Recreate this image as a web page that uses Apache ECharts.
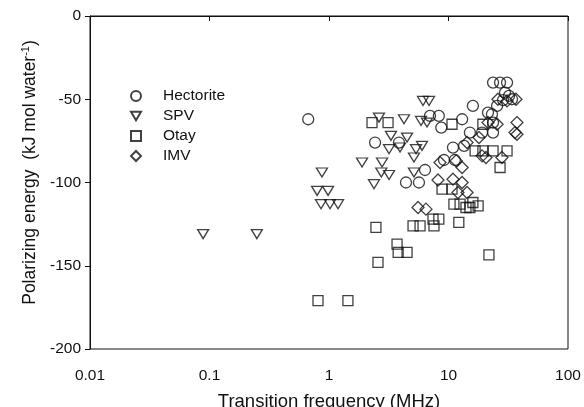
<!DOCTYPE html>
<html>
<head>
<meta charset="utf-8">
<script src="https://cdn.jsdelivr.net/npm/echarts@6/dist/echarts.min.js"></script>
<style>html,body{margin:0;padding:0;background:#fff}#c{width:584px;height:407px}</style>
</head>
<body>
<div id="c"></div>
<script>
// Data: [transition frequency (MHz), polarizing energy (kJ/mol water)]
const hectorite = [
  [0.67,-62],[23.6,-40],[27,-40],[30.9,-40],[29.7,-46],[32.1,-48],[28.6,-50.5],[34,-50],
  [25.5,-54],[16,-54],[21.4,-58],[23.1,-59],[13,-62],[7,-60],[8.3,-60],[8.7,-67],
  [23.6,-64],[15.1,-70],[19.1,-70],[23.6,-70],[10.9,-79],[13.5,-78],[2.43,-76],[3.85,-76],
  [6.36,-92.5],[4.41,-100],[5.66,-100],[9.17,-86.5],[11.3,-86.5]
];
const spv = [
  [6.12,-51],[6.87,-51],[2.62,-61],[4.24,-62],[5.89,-63],[6.61,-64],[3.30,-72],[4.50,-73],
  [3.18,-80],[3.93,-79],[5.35,-80],[6.0,-78],[5.14,-85],[1.89,-88],[2.78,-88],[2.74,-94],
  [3.18,-95.5],[5.14,-94],[2.38,-101],[0.873,-94],[0.795,-105],[0.982,-105],[0.857,-113],
  [1.02,-113],[1.19,-113],[0.0884,-131],[0.249,-131]
];
const otay = [
  [2.29,-64],[3.12,-64],[10.7,-65],[19.4,-65],[16.7,-81],[19.4,-81],[23.6,-81],[30.9,-81],
  [27,-91],[8.83,-104],[10.7,-104],[11.1,-113],[12.5,-113],[14,-115],[15.1,-115],[16,-112],
  [17.7,-114],[2.47,-127],[5.05,-126],[5.78,-126],[7.42,-122],[8.3,-122],[7.56,-126],
  [12.2,-124],[3.71,-137],[3.79,-142],[4.5,-142],[21.8,-143.5],[2.57,-148],[0.809,-171],[1.44,-171]
];
const imv = [
  [25.9,-50],[30.9,-51],[36.7,-50],[21.4,-64],[25.5,-65],[37.4,-64],[36,-70],[37.4,-71],
  [18,-73],[14.3,-76],[19.1,-84],[20.6,-85],[28,-85],[8.49,-88],[11.6,-87],[13,-91],
  [8.17,-98.5],[10.9,-98],[13,-100],[12,-106],[14.3,-106],[5.56,-115],[6.48,-116]
];
const seriesNames = ['Hectorite','SPV','Otay','IMV'];
const xTickLabels = ['0.01','0.1','1','10','100'];
const yTickLabels = ['-200','-150','-100','-50','0'];

const hollow = {color:'rgba(0,0,0,0)', borderColor:'#111', borderWidth:1.3};
const font = 'Liberation Sans, Arial, sans-serif';
const triDown = 'path://M0,0L10,0L5,8.7Z';
const diamond = 'path://M5,0L10,5L5,10L0,5Z';

const chart = echarts.init(document.getElementById('c'));
chart.setOption({
  animation:false,
  backgroundColor:'#fff',
  grid:{left:90,right:16,top:16,bottom:58,outerBoundsMode:'none',containLabel:false,show:true,borderColor:'#111',borderWidth:1,backgroundColor:'transparent'},
  legend:{
    orient:'vertical', left:125, top:83, itemWidth:10, itemHeight:10, itemGap:4,
    data:[
      {name:seriesNames[0],icon:'circle'},
      {name:seriesNames[1],icon:triDown},
      {name:seriesNames[2],icon:'rect'},
      {name:seriesNames[3],icon:diamond}
    ],
    textStyle:{fontFamily:font,fontSize:15.5,color:'#111',padding:[0,0,0,17]}
  },
  xAxis:{
    type:'log', logBase:10, min:0.01, max:100,
    name:'Transition frequency (MHz)', nameLocation:'middle', nameGap:43,
    nameTextStyle:{fontFamily:font,fontSize:18.5,color:'#111'},
    axisLine:{lineStyle:{color:'#111'}},
    axisTick:{length:5,lineStyle:{color:'#111'}},
    minorTick:{show:false},
    splitLine:{show:false},
    axisLabel:{fontFamily:font,fontSize:15.5,color:'#111',margin:19,
      formatter:function(v){const i=Math.round(Math.log10(v))+2;return xTickLabels[i]!==undefined?xTickLabels[i]:'';}}
  },
  yAxis:{
    type:'value', min:-200, max:0, interval:50,
    name:'{a|Polarizing energy  (kJ mol water}{s|-1}{a|)}', nameLocation:'middle', nameGap:49,
    nameTextStyle:{padding:[0,0,0,20],rich:{a:{fontFamily:font,fontSize:17.5,color:'#111'},s:{fontFamily:font,fontSize:11,color:'#111',verticalAlign:'top',padding:[0,0,8,0]}}},
    axisLine:{show:true,lineStyle:{color:'#111'}},
    axisTick:{show:true,length:5,lineStyle:{color:'#111'}},
    splitLine:{show:false},
    axisLabel:{fontFamily:font,fontSize:15.5,color:'#111',margin:9,
      formatter:function(v){const i=Math.round((v+200)/50);return yTickLabels[i];}}
  },
  series:[
    {name:seriesNames[0],type:'scatter',data:hectorite,symbol:'circle',symbolSize:11,itemStyle:hollow},
    {name:seriesNames[1],type:'scatter',data:spv,symbol:triDown,symbolSize:[11,9],itemStyle:hollow},
    {name:seriesNames[2],type:'scatter',data:otay,symbol:'rect',symbolSize:10,itemStyle:hollow},
    {name:seriesNames[3],type:'scatter',data:imv,symbol:diamond,symbolSize:12,itemStyle:hollow}
  ]
});
</script>
</body>
</html>
